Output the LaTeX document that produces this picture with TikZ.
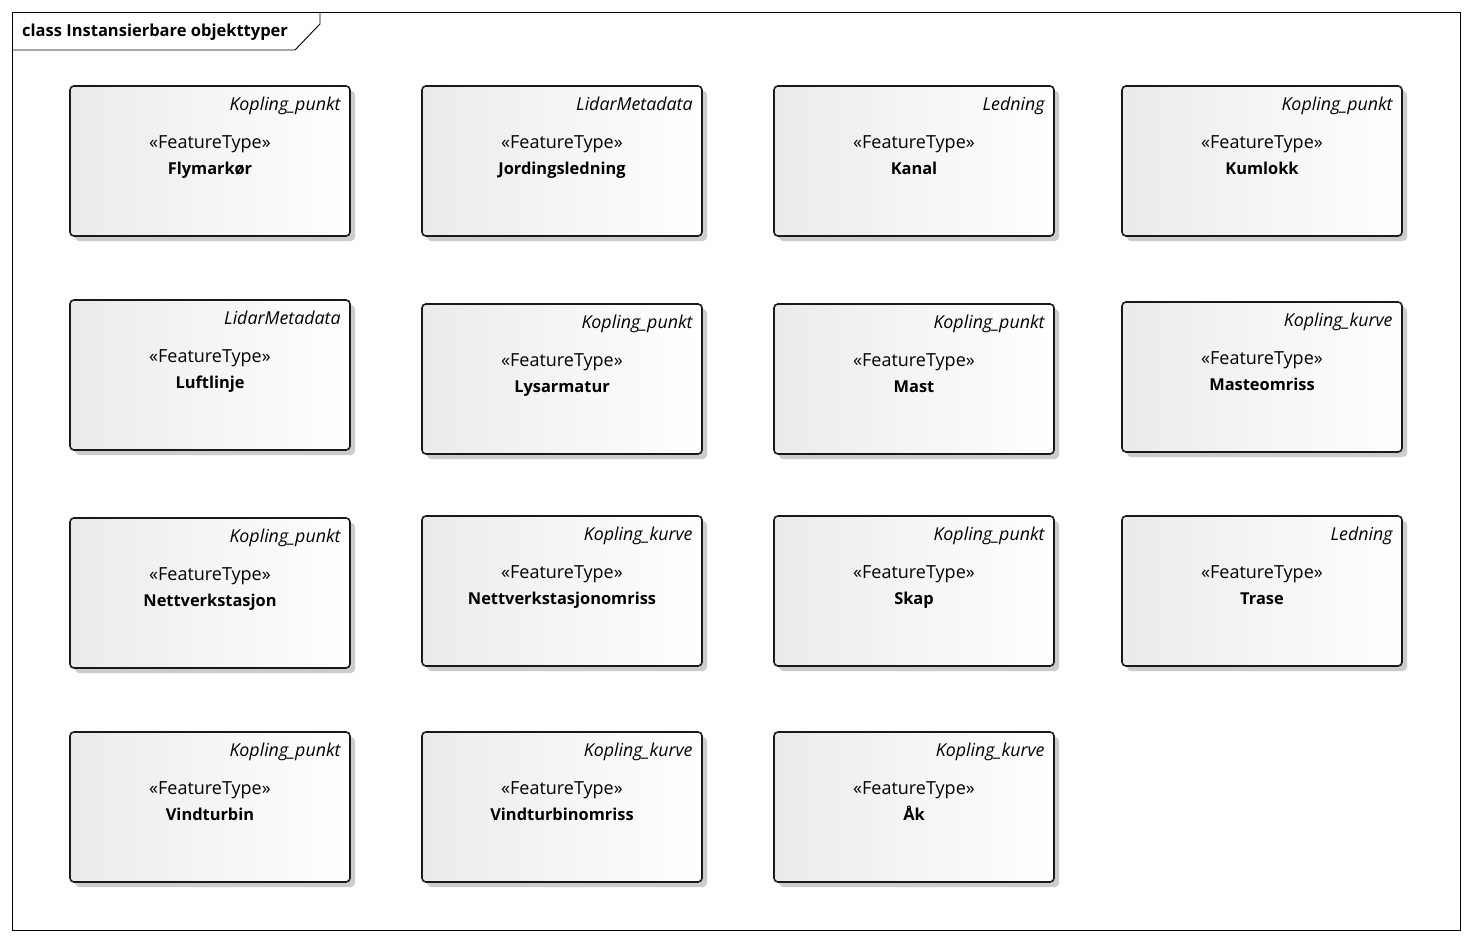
\documentclass[tikz,border=0pt]{standalone}
\usepackage{fontspec}
\setmainfont{Open Sans}
\usetikzlibrary{shadows}
\tikzset{
  ftbox/.style={draw=black!90, line width=1.6pt, rounded corners=4pt,
    minimum width=280pt, minimum height=150pt, inner sep=0pt,
    left color=black!8, right color=white,
    general shadow={fill=black!20, shadow xshift=5pt, shadow yshift=-5pt}},
  ftpar/.style={anchor=base east, font=\fontsize{17.8}{20}\selectfont\itshape, inner sep=0pt},
  ftster/.style={anchor=base, font=\fontsize{18}{20}\selectfont, inner sep=0pt},
  ftname/.style={anchor=base, font=\fontsize{16.4}{20}\selectfont\bfseries, inner sep=0pt},
  frameline/.style={draw=black, line width=0.9pt}
}
\newcommand{\ftype}[5]{%
  \node[ftbox] (#1) at (#2,#3) {};
  \node[ftpar] (#1p) at ([xshift=-10pt,yshift=-25pt]#1.north east) {#4};
  \node[ftster] (#1s) at ([yshift=-63pt]#1.north) {«FeatureType»};
  \node[ftname] (#1n) at ([yshift=-89pt]#1.north) {#5};
}
\begin{document}
\begin{tikzpicture}[x=1pt,y=-1pt]
\useasboundingbox[fill=white] (0,0) rectangle (1472,942);
\draw[frameline] (12,12) rectangle (1460,930);
\draw[frameline] (12,50) -- (295,50) -- (320,24) -- (320,12);
\node[anchor=base west, inner sep=0pt, font=\fontsize{16.5}{20}\selectfont\bfseries] (title) at (22,37) {class Instansierbare objekttyper};
% row 1
\ftype{a1}{210}{161}{Kopling\_punkt}{Flymarkør}
\ftype{a2}{562}{161}{LidarMetadata}{Jordingsledning}
\ftype{a3}{914}{161}{Ledning}{Kanal}
\ftype{a4}{1262}{161}{Kopling\_punkt}{Kumlokk}
% row 2
\ftype{b1}{210}{375}{LidarMetadata}{Luftlinje}
\ftype{b2}{562}{379}{Kopling\_punkt}{Lysarmatur}
\ftype{b3}{914}{379}{Kopling\_punkt}{Mast}
\ftype{b4}{1262}{377}{Kopling\_kurve}{Masteomriss}
% row 3
\ftype{c1}{210}{593}{Kopling\_punkt}{Nettverkstasjon}
\ftype{c2}{562}{591}{Kopling\_kurve}{Nettverkstasjonomriss}
\ftype{c3}{914}{591}{Kopling\_punkt}{Skap}
\ftype{c4}{1262}{591}{Ledning}{Trase}
% row 4
\ftype{d1}{210}{807}{Kopling\_punkt}{Vindturbin}
\ftype{d2}{562}{807}{Kopling\_kurve}{Vindturbinomriss}
\ftype{d3}{914}{807}{Kopling\_kurve}{Åk}
\end{tikzpicture}
\end{document}
